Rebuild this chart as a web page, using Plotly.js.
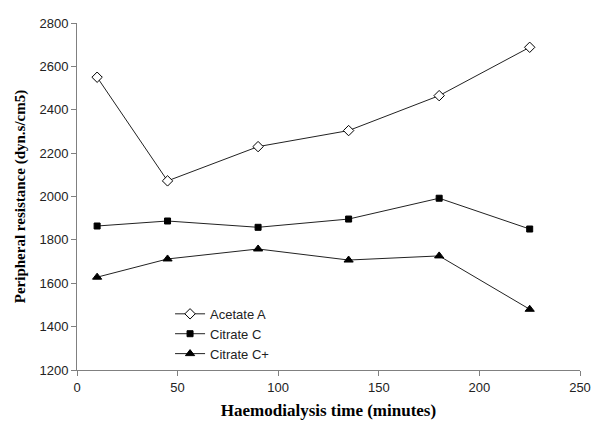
<!DOCTYPE html>
<html>
<head>
<meta charset="utf-8">
<script src="https://cdn.plot.ly/plotly-3.0.1.min.js"></script>
<style>
  body { margin: 0; background: #fff; }
  #myGraph { width: 600px; height: 437px; }
</style>
</head>
<body>
<div id="myGraph"></div>
<script>
// time points (minutes)
const times = [10, 45, 90, 135, 180, 225];
// peripheral resistance for each dialysate
const acetateA = [2550, 2072, 2230, 2304, 2465, 2688];
const citrateC = [1864, 1887, 1858, 1896, 1992, 1850];
const citrateCPlus = [1628, 1712, 1758, 1707, 1726, 1480];
const seriesNames = ["Acetate A", "Citrate C", "Citrate C+"];

//build one trace per series
function makeTrace(yValues, name, symbol, size, fill) {
  return {
    x: times,
    y: yValues,
    mode: "lines+markers",
    type: "scatter",
    name: name,
    line: { color: "#222", width: 1 },
    marker: {
      symbol: symbol,
      size: size,
      color: fill,
      line: { color: "#000", width: 1 },
    },
  };
}

const data = [
  makeTrace(acetateA, seriesNames[0], "diamond", 8, "#fff"),
  makeTrace(citrateC, seriesNames[1], "square", 6, "#000"),
  makeTrace(citrateCPlus, seriesNames[2], "triangle-up", 8, "#000"),
];

const axisStyle = {
  showgrid: false,
  zeroline: false,
  showline: true,
  linecolor: "#808080",
  linewidth: 1,
  ticks: "outside",
  ticklen: 5,
  tickcolor: "#808080",
  tickfont: { family: "Liberation Sans, Arial", size: 13, color: "#222" },
};

const titleFamily = "Liberation Serif, Times New Roman";

var layout = {
  width: 600,
  height: 437,
  margin: { l: 77, r: 20, t: 23, b: 67 },
  paper_bgcolor: "#fff",
  plot_bgcolor: "#fff",
  showlegend: true,
  legend: {
    x: 0.185,
    y: 0.205,
    xanchor: "left",
    yanchor: "top",
    itemwidth: 30,
    bgcolor: "rgba(0,0,0,0)",
    font: { family: "Liberation Sans, Arial", size: 13, color: "#222" },
    tracegroupgap: 0,
  },
  xaxis: Object.assign({}, axisStyle, {
    range: [0, 250],
    dtick: 50,
    title: {
      text: "Haemodialysis time (minutes)",
      font: { family: titleFamily, size: 17, color: "#000", weight: "bold" },
      standoff: 10,
    },
  }),
  yaxis: Object.assign({}, axisStyle, {
    range: [1200, 2800],
    dtick: 200,
    title: {
      text: "Peripheral resistance (dyn.s/cm5)",
      font: { family: titleFamily, size: 15, color: "#000", weight: "bold" },
      standoff: 10,
    },
  }),
};

Plotly.newPlot("myGraph", data, layout, { displayModeBar: false, staticPlot: true });
</script>
</body>
</html>
